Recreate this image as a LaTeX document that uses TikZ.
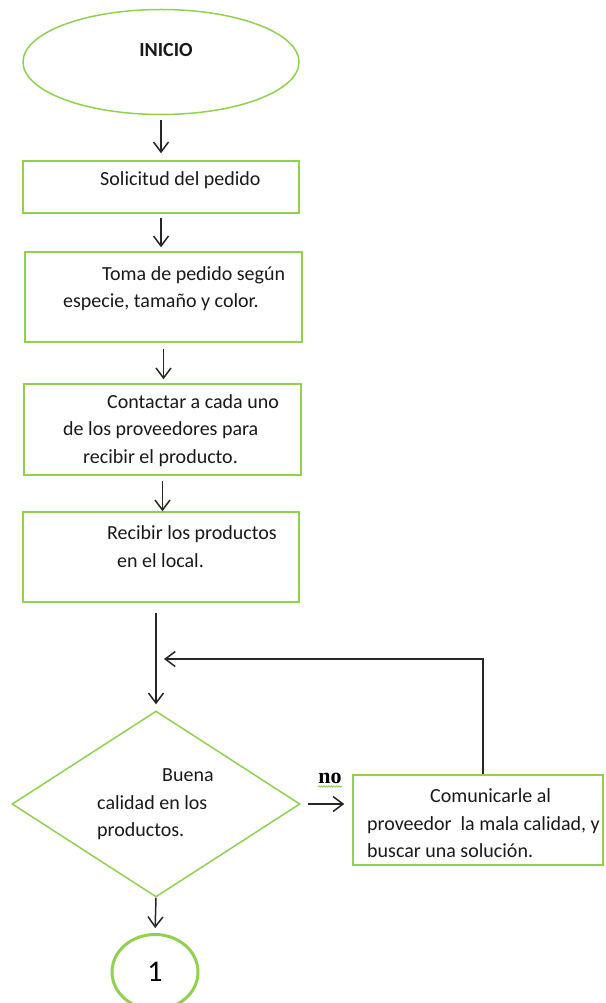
\documentclass[tikz,border=0pt]{standalone}
\usepackage{fontspec}
\setmainfont{Carlito}
\newfontfamily\fuenteno{Liberation Serif}
\usetikzlibrary{arrows.meta}
\usetikzlibrary{shapes.geometric}
\usetikzlibrary{decorations.pathmorphing}
\definecolor{verde}{RGB}{146,208,80}
\definecolor{trazo}{RGB}{38,38,38}
\tikzset{
  caja/.style = {draw=verde, line width=1.5pt, rectangle, inner sep=0},
  texto/.style = {anchor=west, align=left, inner sep=0, text=black!90, font=\fontsize{20}{27.5}\selectfont},
  flecha/.style = {draw=trazo, line width=1.5pt, -{Straight Barb[length=10pt,width=15pt,line width=1.5pt]}}
}

\begin{document}
\begin{tikzpicture}[x=1pt, y=-1pt]
\useasboundingbox (0,0) rectangle (605,1003);
% figuras
\node[draw=verde, line width=1.5pt, ellipse, minimum width=276pt, minimum height=105pt] (inicio) at (161,62) {};
\node[caja, minimum width=276pt, minimum height=52pt] (pedido) at (161,187) {};
\node[caja, minimum width=277pt, minimum height=90pt] (toma) at (163.5,297) {};
\node[caja, minimum width=277pt, minimum height=91pt] (contacto) at (162.5,429.5) {};
\node[caja, minimum width=276pt, minimum height=90pt] (recibir) at (161,557) {};
\node[draw=verde, line width=1.5pt, diamond, inner sep=0, minimum width=288pt, minimum height=186pt] (calidad) at (156,804) {};
\node[caja, minimum width=250pt, minimum height=90pt] (comunicar) at (478,820) {};
\node[draw=verde, line width=3pt, ellipse, inner sep=0, minimum width=86pt, minimum height=75pt, font=\fontsize{30}{30}\selectfont] (fin) at (155,972) {1};
\coordinate (retorno) at (157,659);
% textos
\node[texto, anchor=center] (t-inicio) at (166,50) {\textbf{INICIO}};
\node[texto] (t-pedido) at (100,180) {Solicitud del pedido};
\node[texto] (t-toma) at (63,288.5) {\hspace*{39pt}Toma de pedido según\\especie, tamaño y color.};
\node[texto] (t-contacto) at (63,430.5) {\hspace*{44pt}Contactar a cada uno\\de los proveedores para\\\hspace*{20pt}recibir el producto.};
\node[texto] (t-recibir) at (107,546.5) {Recibir los productos\\\hspace*{10pt}en el local.};
\node[texto] (t-calidad) at (97,804.5) {\hspace*{65pt}Buena\\calidad en los\\productos.};
\node[texto] (t-comunicar) at (367,823.5) {\hspace*{63pt}Comunicarle al\\proveedor\ \ la mala calidad, y\\buscar una solución.};
\node[inner sep=0, font=\fuenteno\bfseries\fontsize{22}{24}\selectfont] (no) at (330,778) {no};
\draw[verde, line width=0.8pt, decorate, decoration={snake, amplitude=0.7pt, segment length=2.5pt}] ([yshift=-3]no.south west) -- ([yshift=-3]no.south east);
% conectores
\draw[flecha, shorten <=5pt, shorten >=7pt] (inicio.south) -- (inicio.south |- pedido.north);
\draw[flecha, shorten <=4pt, shorten >=4pt] (pedido.south) -- (pedido.south |- toma.north);
\draw[flecha, shorten <=6pt, shorten >=4pt] (toma.south) -- (toma.south |- contacto.north);
\draw[flecha, shorten <=5pt] (contacto.south) -- (contacto.south |- recibir.north);
\draw[flecha, shorten <=10pt, shorten >=6pt] (calidad.north |- recibir.south) -- (calidad.north);
\draw[flecha, shorten >=7pt] ([xshift=5pt]comunicar.north) |- (retorno);
\draw[flecha, shorten <=7pt, shorten >=8pt] (calidad.east) -- (calidad.east -| comunicar.west);
\draw[flecha, shorten >=5pt] (calidad.south) -- (fin.north);
\end{tikzpicture}
\end{document}
